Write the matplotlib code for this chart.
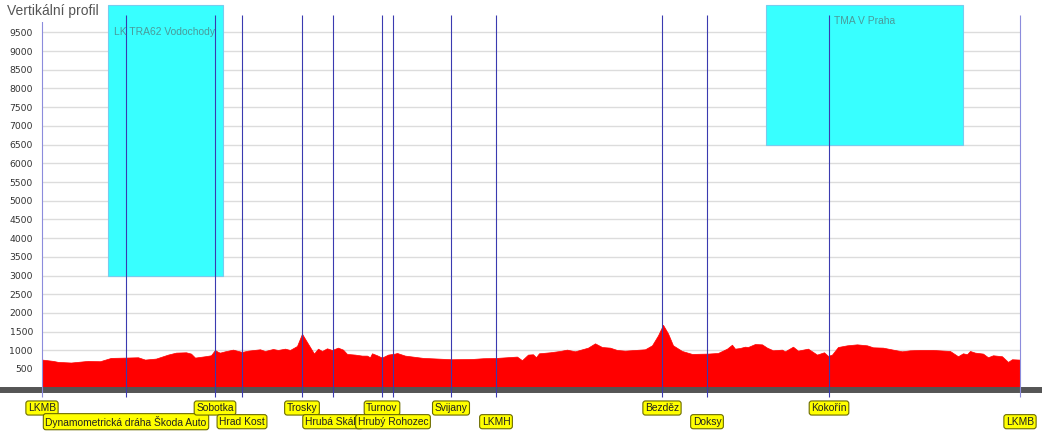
import matplotlib
matplotlib.use("agg")
import matplotlib.pyplot as plt
from matplotlib.patches import Rectangle

# route profile: distance (km) and terrain elevation (ft)
dist_km = [0.0, 2.2, 3.2, 5.8, 9.2, 11.6, 13.8, 16.8, 19.2, 20.6, 22.8, 25.2, 26.8, 28.8,
           29.8, 30.6, 32.6, 33.8, 34.6, 35.2, 35.6, 36.6, 38.2, 40.0, 41.2, 43.6, 44.6,
           46.2, 47.2, 48.6, 49.6, 51.0, 52.0, 53.2, 54.4, 55.2, 56.0, 57.0, 58.0, 59.2,
           60.2, 61.0, 62.6, 64.0, 65.0, 65.6, 66.0, 67.0, 68.0, 69.2, 70.6, 71.0, 72.6,
           76.2, 82.0, 86.2, 88.2, 91.0, 95.0, 96.0, 97.2, 98.2, 98.8, 99.4, 101.6, 103.6,
           105.0, 106.6, 109.2, 110.6, 112.0, 113.6, 115.0, 116.6, 118.6, 120.6, 122.0,
           123.2, 124.2, 125.2, 126.2, 128.0, 130.0, 133.2, 135.2, 137.0, 138.0, 138.6,
           139.6, 140.6, 141.2, 142.6, 144.0, 145.0, 146.2, 148.0, 148.6, 150.2, 151.2,
           153.2, 155.0, 156.4, 157.2, 158.0, 159.2, 161.0, 163.0, 165.0, 166.2, 168.2,
           170.2, 172.0, 173.6, 175.6, 178.2, 181.6, 183.2, 184.2, 185.0, 185.6, 186.6,
           188.2, 189.2, 190.2, 192.0, 193.2, 194.0, 195.4, 195.6]
elev_ft = [752, 717, 690, 673, 717, 708, 797, 805, 814, 752, 779, 885, 938, 947,
           912, 805, 841, 867, 1009, 956, 938, 973, 1018, 956, 991, 1027, 982,
           1035, 1009, 1044, 1009, 1115, 1443, 1177, 912, 1044, 982, 1053, 1009, 1071,
           1018, 903, 885, 858, 858, 814, 920, 867, 805, 885, 912, 929, 858,
           797, 761, 770, 788, 797, 832, 735, 885, 894, 814, 920, 947, 982,
           1018, 973, 1071, 1186, 1088, 1071, 1009, 991, 1009, 1027, 1133,
           1398, 1681, 1452, 1133, 982, 903, 912, 929, 1044, 1150, 1044,
           1062, 1097, 1088, 1168, 1159, 1071, 1000, 1018, 973, 1097, 991,
           1044, 885, 947, 850, 885, 1088, 1133, 1159, 1133, 1080, 1071,
           1018, 973, 1000, 1009, 1009, 982, 841, 920, 894, 982, 938,
           912, 814, 867, 841, 690, 761, 752, 752]

# waypoints
wp_names = ["LKMB", "Dynamometrická dráha Škoda Auto", "Sobotka", "Hrad Kost", "Trosky",
            "Hrubá Skála", "Turnov", "Hrubý Rohozec", "Svijany", "LKMH", "Bezděz",
            "Doksy", "Kokořín", "LKMB"]
wp_km = [0.0, 16.8, 34.6, 40.0, 52.0, 58.2, 68.0, 70.2, 81.8, 90.8, 124.0, 133.0, 157.4, 195.6]

# airspaces crossed: name, from/to km, floor ft
air_names = ["LK TRA62 Vodochody", "TMA V Praha"]
air_start = [13.2, 144.8]
air_end = [36.2, 184.2]
air_floor = [3000, 6500]
air_label_km = [14.4, 158.4]
air_label_ft = [9500, 9800]

yticks = list(range(500, 10000, 500))

W, H = 1042, 438
fig = plt.figure(figsize=(W / 100, H / 100), dpi=100)
ax = fig.add_axes([42 / W, 50.3 / H, 978 / W, 374 / H])
ax.set_xlim(0, 195.6)
ax.set_ylim(0, 10000)
for s in ax.spines.values():
    s.set_visible(False)
ax.set_xticks([])
ax.set_yticks(yticks)
ax.set_yticklabels([str(t) for t in yticks], fontsize=6.7, color="#333333")
ax.tick_params(axis="y", length=0, pad=6.5)
ax.grid(axis="y", color="#dcdcdc", linewidth=1.0, zorder=0)
ax.set_axisbelow(True)

ax.fill_between(dist_km, 0, elev_ft, color="#ff0000", lw=0.5, zorder=2)

# airspace boxes run up past the top of the plot
top_ft = 10233
for name, a, b, floor, lx, ly in zip(air_names, air_start, air_end, air_floor,
                                     air_label_km, air_label_ft):
    ax.add_patch(Rectangle((a, floor), b - a, top_ft - floor, facecolor="#38ffff",
                           edgecolor="#77ccee", lw=0.8, zorder=3, clip_on=False))
    ax.text(lx, ly, name, fontsize=7.4, family="Liberation Sans", color="#4a9a9a",
            va="center", ha="left", zorder=5)

# ground bar
ax.axhline(-61, xmin=-0.05, xmax=1.05, color="#555555", lw=4.3, clip_on=False, zorder=4)

# waypoint lines and labels
for i, (name, km) in enumerate(zip(wp_names, wp_km)):
    edge = i in (0, len(wp_km) - 1)
    ax.vlines(km, -249, 9965, color="#8c8cdc" if edge else "#3a3ab0", lw=0.8,
              clip_on=False, zorder=4)
    ax.text(km, -543 if i % 2 == 0 else -909, name, fontsize=7.4,
            family="Liberation Sans", color="#222222", ha="center", va="center",
            zorder=6 + i, clip_on=False,
            bbox=dict(boxstyle="round,pad=0.2,rounding_size=0.25", fc="#ffff00",
                      ec="#6b6b00", lw=0.8))

fig.text(7 / W, 1 - 11.5 / H, "Vertikální profil", fontsize=10, family="Liberation Sans",
         color="#555555", ha="left", va="center", zorder=10,
         bbox=dict(boxstyle="square,pad=0.25", fc="white", ec="none"))

fig.savefig("out.png", dpi=100)
